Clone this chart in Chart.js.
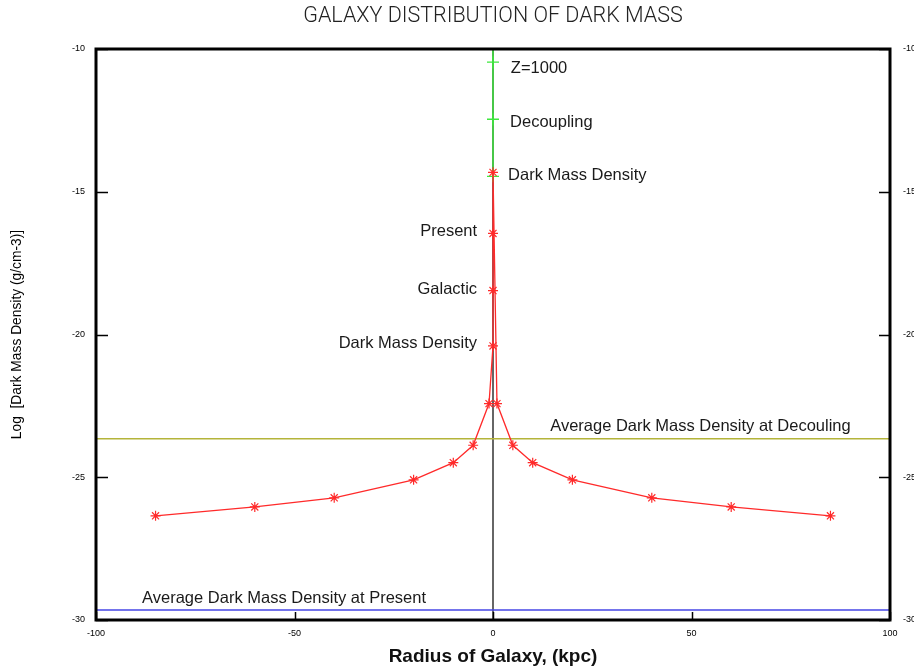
<!DOCTYPE html>
<html>
<head>
<meta charset="utf-8">
<script src="https://cdn.jsdelivr.net/npm/chart.js@4.4.1/dist/chart.umd.min.js"></script>
<style>
  html, body { margin: 0; padding: 0; background: #fff; overflow: hidden; }
  canvas { display: block; }
</style>
</head>
<body>
<canvas id="darkMass" width="930" height="668"></canvas>
<script>
// radius of galaxy (kpc) and log dark mass density (g/cm-3)
const haloRadius = [-85, -60, -40, -20, -10, -5, -1, 0, 0, 0, 0, 1, 5, 10, 20, 40, 60, 85];
const haloDensity = [-26.35, -26.04, -25.72, -25.09, -24.49, -23.88, -22.42,
    -20.4, -18.46, -16.46, -14.32,
    -22.42, -23.88, -24.49, -25.09, -25.72, -26.04, -26.35];

// early universe column (Z=1000 / decoupling), green
const earlyRadius = [0, 0, 0, 0];
const earlyDensity = [-14.46, -12.46, -10.46, -10];

// average densities, horizontal reference lines
const avgDecoupling = -23.65;
const avgPresent = -29.65;

const xTicks = [-100, -50, 0, 50, 100];
const yTicks = [-30, -25, -20, -15, -10];

const chartTitle = 'GALAXY DISTRIBUTION OF DARK MASS';
const upperLabels = ['Z=1000', 'Decoupling', 'Dark Mass Density'];
const lowerLabels = ['Present', 'Galactic', 'Dark Mass Density'];
const avgLabels = ['Average Dark Mass Density at Decouling', 'Average Dark Mass Density at Present'];

function pts(xs, ys) {
    return xs.map((x, i) => ({x: x, y: ys[i]}));
}

// frame, inner tick marks, title and the text notes on the plot
const framePlugin = {
    id: 'frame',
    afterDatasetsDraw(chart) {
        const ctx = chart.ctx;
        const a = chart.chartArea;
        const xs = chart.scales.x, ys = chart.scales.y;
        ctx.save();

        ctx.strokeStyle = '#000';
        ctx.lineWidth = 1.5;
        ctx.beginPath();
        yTicks.forEach(v => {
            const py = Math.round(ys.getPixelForValue(v)) + 0.5;
            ctx.moveTo(a.left, py); ctx.lineTo(a.left + 12, py);
            ctx.moveTo(a.right, py); ctx.lineTo(a.right - 11, py);
        });
        xTicks.forEach(v => {
            const px = Math.round(xs.getPixelForValue(v)) + 0.5;
            ctx.moveTo(px, a.bottom); ctx.lineTo(px, a.bottom - 8);
        });
        ctx.stroke();

        ctx.lineWidth = 3;
        ctx.strokeRect(a.left, a.top, a.right - a.left, a.bottom - a.top);

        // title centred over the plot box
        ctx.fillStyle = '#222';
        ctx.font = '300 21.5px Roboto, sans-serif';
        ctx.textAlign = 'center';
        ctx.textBaseline = 'middle';
        ctx.fillText(chartTitle, (a.left + a.right) / 2, 17);

        ctx.fillStyle = '#1a1a1a';
        ctx.font = '16.5px "Liberation Sans", Arial, sans-serif';

        ctx.textAlign = 'left';
        const upY = [-10.67, -12.56, -14.42];
        const upX = [4.5, 4.3, 3.8];
        upperLabels.forEach((t, i) => {
            ctx.fillText(t, xs.getPixelForValue(upX[i]), ys.getPixelForValue(upY[i]));
        });

        ctx.textAlign = 'right';
        const lowY = [-16.39, -18.42, -20.32];
        lowerLabels.forEach((t, i) => {
            ctx.fillText(t, xs.getPixelForValue(-4), ys.getPixelForValue(lowY[i]));
        });

        ctx.textAlign = 'left';
        ctx.fillText(avgLabels[0], xs.getPixelForValue(14.4), ys.getPixelForValue(-23.23));
        ctx.fillText(avgLabels[1], xs.getPixelForValue(-88.4), ys.getPixelForValue(-29.23));

        ctx.restore();
    }
};

const tickFont = {family: '"Liberation Sans", Arial, sans-serif', size: 9};

new Chart(document.getElementById('darkMass'), {
    type: 'scatter',
    data: {
        datasets: [
            {
                label: 'axis',
                data: [{x: 0, y: -30}, {x: 0, y: -10}],
                showLine: true,
                borderColor: '#333',
                borderWidth: 1.5,
                pointRadius: 0,
                order: 5
            },
            {
                label: 'decoupling average',
                data: [{x: -100, y: avgDecoupling}, {x: 100, y: avgDecoupling}],
                showLine: true,
                borderColor: '#b4b43a',
                borderWidth: 1.5,
                pointRadius: 0,
                order: 4
            },
            {
                label: 'present average',
                data: [{x: -100, y: avgPresent}, {x: 100, y: avgPresent}],
                showLine: true,
                borderColor: '#4646e6',
                borderWidth: 1.5,
                pointRadius: 0,
                order: 4
            },
            {
                label: 'early',
                data: pts(earlyRadius, earlyDensity),
                showLine: true,
                borderColor: '#3ee83e',
                backgroundColor: '#3ee83e',
                borderWidth: 1.5,
                pointStyle: 'cross',
                pointRadius: ctx => ctx.dataIndex === 3 ? 0 : 6,
                pointBorderWidth: 1.3,
                order: 2
            },
            {
                label: 'halo',
                data: pts(haloRadius, haloDensity),
                showLine: true,
                borderColor: '#ff2a2a',
                backgroundColor: '#ff2a2a',
                borderWidth: 1.3,
                pointStyle: 'star',
                pointRadius: 5,
                pointBorderWidth: 1.2,
                order: 1
            }
        ]
    },
    options: {
        responsive: false,
        animation: false,
        layout: {padding: {top: 49}},
        plugins: {
            legend: {display: false},
            tooltip: {enabled: false},
            title: {display: false}
        },
        scales: {
            x: {
                type: 'linear',
                min: -100,
                max: 100,
                afterBuildTicks: s => { s.ticks = xTicks.map(v => ({value: v})); },
                afterFit: s => { s.height = 48; },
                grid: {display: false},
                border: {display: false},
                ticks: {color: '#000', font: tickFont, padding: 0, maxRotation: 0},
                title: {
                    display: true,
                    text: 'Radius of Galaxy, (kpc)',
                    color: '#111',
                    font: {family: '"Liberation Sans", Arial, sans-serif', size: 19, weight: 'bold'},
                    padding: {top: 0, bottom: 0}
                }
            },
            y: {
                type: 'linear',
                position: 'left',
                min: -30,
                max: -10,
                afterBuildTicks: s => { s.ticks = yTicks.map(v => ({value: v})); },
                afterFit: s => { s.width = 96; },
                grid: {display: false},
                border: {display: false},
                ticks: {color: '#000', font: tickFont, padding: 3},
                title: {
                    display: true,
                    text: 'Log  [Dark Mass Density (g/cm-3)]',
                    color: '#000',
                    font: {family: '"Liberation Sans", Arial, sans-serif', size: 13.8},
                    padding: {top: 9, bottom: 0}
                }
            },
            y2: {
                type: 'linear',
                position: 'right',
                min: -30,
                max: -10,
                afterBuildTicks: s => { s.ticks = yTicks.map(v => ({value: v})); },
                afterFit: s => { s.width = 40; },
                grid: {display: false},
                border: {display: false},
                ticks: {color: '#000', font: tickFont, padding: 5}
            }
        }
    },
    plugins: [framePlugin]
});
</script>
</body>
</html>
